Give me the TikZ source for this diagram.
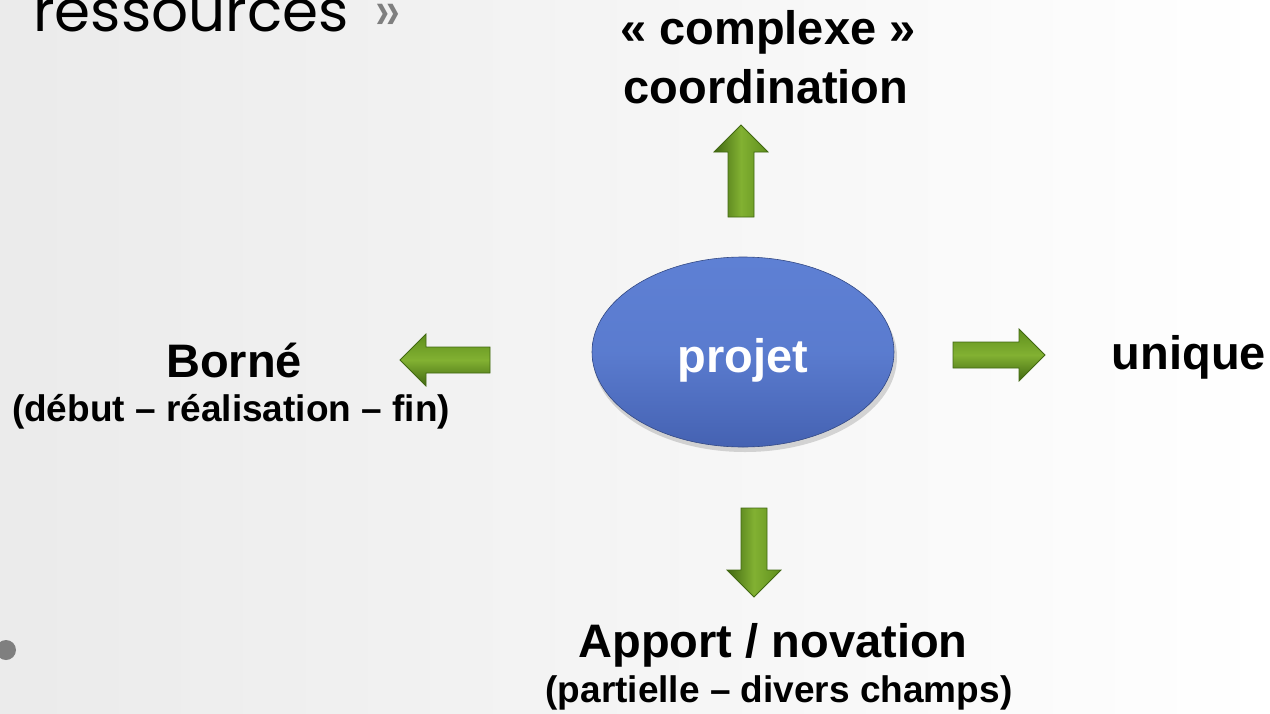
\documentclass[tikz,border=0pt]{standalone}
\usepackage{fontspec}
\setmainfont{Liberation Sans}
\newfontfamily\titlefont{Poppins}
\usetikzlibrary{shapes.geometric}
\definecolor{gA}{HTML}{82B132}
\definecolor{gB}{HTML}{5F8F1D}
\definecolor{gC}{HTML}{416812}
\definecolor{bA}{HTML}{5E80D4}
\definecolor{bB}{HTML}{4562B2}
\definecolor{dotgray}{HTML}{7F7F7F}
\tikzset{
  arrowline/.style={draw=gC, line width=0.8pt, line join=miter},
  harrow/.style={arrowline, top color=gB, bottom color=gC, middle color=gA},
  varrow/.style={arrowline, left color=gC, right color=gB, middle color=gA},
  lbl/.style={font=\bfseries\fontsize{47}{54}\selectfont, text=black, inner sep=0pt},
  sub/.style={font=\bfseries\fontsize{37}{42}\selectfont, text=black, inner sep=0pt},
}
\begin{document}
\begin{tikzpicture}[x=1pt,y=-1pt]
\useasboundingbox (0,0) rectangle (1270,713);
\shade[left color=black!8, right color=white] (0,0) rectangle (1270,713);
\fill[dotgray] (6,650) circle (10);
\node[anchor=base west, inner sep=0pt, font=\titlefont\fontsize{58}{62}\selectfont] (title) at (33,31) {ressources\hspace{0.45em}\textcolor{dotgray}{»}};
% center ellipse
\fill[black, opacity=0.15] (745,357) ellipse (152 and 95);
\node[ellipse, minimum width=302pt, minimum height=190pt, top color=bA, bottom color=bB, middle color=bA!85!bB, draw=bB!75!black, line width=0.6pt] (projet) at (743,352) {};
\node[anchor=base, font=\bfseries\fontsize{47}{54}\selectfont, text=white, inner sep=0pt] (pl) at (743,372) {projet};
% up arrow
\coordinate (upTip) at (741,125);
\path[varrow] (upTip) -- ++(27,27) -- ++(-14,0) -- ++(0,65) -- ++(-26,0) -- ++(0,-65) -- ++(-14,0) -- cycle;
% down arrow
\coordinate (downTip) at (754,597);
\path[varrow] (downTip) -- ++(27,-27) -- ++(-14,0) -- ++(0,-62) -- ++(-26,0) -- ++(0,62) -- ++(-14,0) -- cycle;
% left arrow
\coordinate (leftTip) at (400,360);
\path[harrow] (leftTip) -- ++(26,-26) -- ++(0,13) -- ++(64,0) -- ++(0,26) -- ++(-64,0) -- ++(0,13) -- cycle;
% right arrow
\coordinate (rightTip) at (1045,355);
\path[harrow] (rightTip) -- ++(-26,-26) -- ++(0,13) -- ++(-66,0) -- ++(0,26) -- ++(66,0) -- ++(0,13) -- cycle;
% labels
\node[lbl] (cx) at (768,32) {« complexe »};
\node[lbl] (co) at (766,87) {coordination};
\node[lbl] (borne) at (234,360) {Borné};
\node[sub] (deb) at (231,412) {(début – réalisation – fin)};
\node[lbl] (uni) at (1189,357) {unique};
\node[lbl] (app) at (773,645) {Apport / novation};
\node[sub] (part) at (779,693) {(partielle – divers champs)};
\end{tikzpicture}
\end{document}
